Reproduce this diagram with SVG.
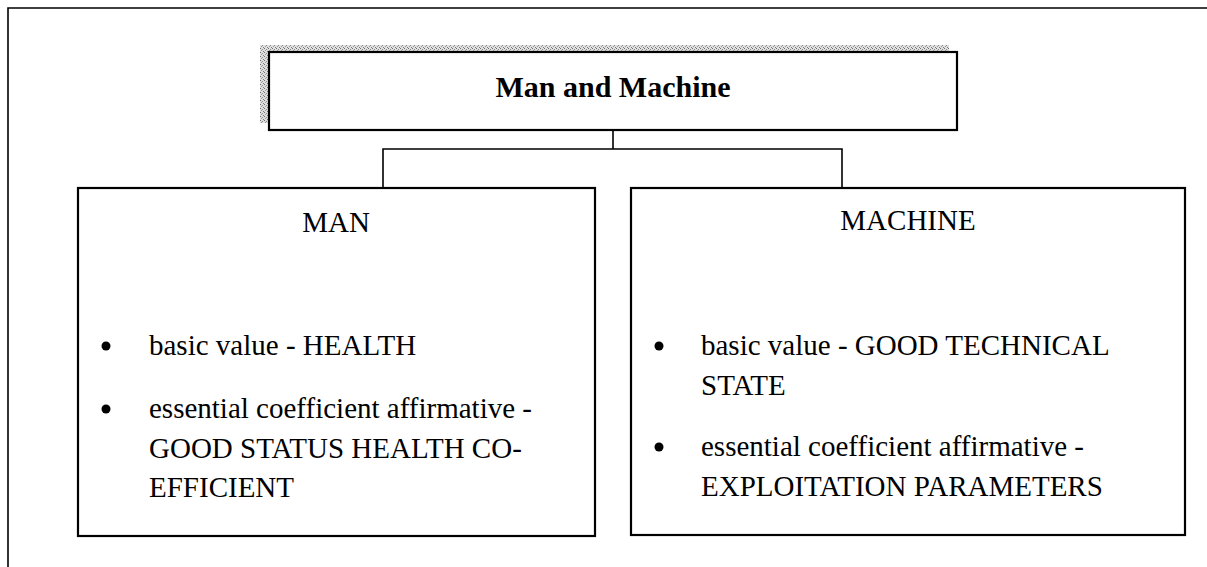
<svg xmlns="http://www.w3.org/2000/svg" width="1207" height="567" viewBox="0 0 1207 567">
<defs>
<pattern id="stip" width="4" height="4" patternUnits="userSpaceOnUse">
<rect width="4" height="4" fill="#e0e0e0"/>
<rect width="1" height="1" fill="#707070"/>
<rect x="2" y="1" width="1" height="1" fill="#8c8c8c"/>
<rect x="1" y="2" width="1" height="1" fill="#9c9c9c"/>
<rect x="3" y="3" width="1" height="1" fill="#7c7c7c"/>
</pattern>
<style>
.box{fill:#fff;stroke:#000;stroke-width:2.2}
.ln{fill:none;stroke:#000;stroke-width:1.6}
.t{font-family:"Liberation Serif","Times New Roman",serif;font-size:29px;fill:#000}
.h{font-family:"Liberation Serif","Times New Roman",serif;font-size:30px;font-weight:bold;fill:#000}
.b{fill:#000}
</style>
</defs>
<rect width="1207" height="567" fill="#fff"/>
<g id="frame">
<path class="ln" d="M8,567 V8 H1207"/>
</g>
<g id="connectors">
<path class="ln" d="M613,130 V149 M383,188 V149 H842 V188"/>
</g>
<g id="title">
<rect x="260" y="45" width="689" height="78" fill="url(#stip)"/>
<rect class="box" x="269" y="52" width="688" height="78"/>
<text class="h" x="613" y="97" text-anchor="middle">Man and Machine</text>
</g>
<g id="man">
<rect class="box" x="78" y="188" width="517" height="348"/>
<text class="t" x="336" y="232" text-anchor="middle">MAN</text>
<circle class="b" cx="106" cy="346" r="4.5"/>
<text class="t" x="149" y="355">basic value - HEALTH</text>
<circle class="b" cx="106" cy="409" r="4.5"/>
<text class="t" x="149" y="418">essential coefficient affirmative -</text>
<text class="t" x="149" y="458">GOOD STATUS HEALTH CO-</text>
<text class="t" x="149" y="497">EFFICIENT</text>
</g>
<g id="machine">
<rect class="box" x="631" y="188" width="554" height="347"/>
<text class="t" x="908" y="230" text-anchor="middle">MACHINE</text>
<circle class="b" cx="659" cy="346" r="4.5"/>
<text class="t" x="701" y="355">basic value - GOOD TECHNICAL</text>
<text class="t" x="701" y="395">STATE</text>
<circle class="b" cx="659" cy="447" r="4.5"/>
<text class="t" x="701" y="456">essential coefficient affirmative -</text>
<text class="t" x="701" y="496">EXPLOITATION PARAMETERS</text>
</g>
</svg>
